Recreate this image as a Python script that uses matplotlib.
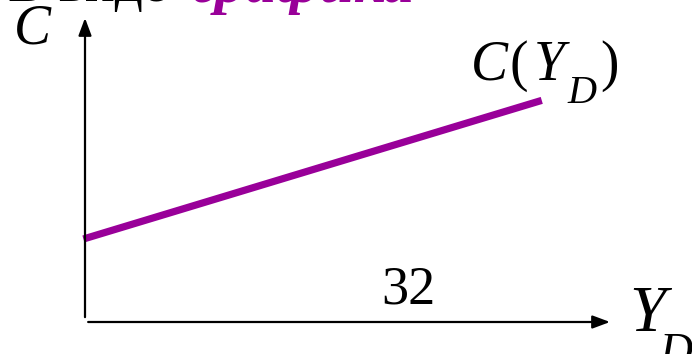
import matplotlib
matplotlib.use("Agg")
import matplotlib.pyplot as plt

# Data (arbitrary units: axes span 0..100)
yd = [-0.3, 87.0]          # disposable income Y_D
c_vals = [27.3, 72.9]      # consumption C(Y_D)
tick_label = "32"
title_black = "В виде "
title_purple = "графика"

W, H = 692, 354
fig = plt.figure(figsize=(W / 100, H / 100), dpi=100)
fig.patch.set_facecolor("white")

def fx(x):
    return x / W

def fy(y):
    return 1 - y / H

# axes: origin at pixel (85, 322), x=100 at px 610, y=100 at px 18
ax = fig.add_axes([fx(85), fy(322), (610 - 85) / W, (322 - 18) / H])
ax.set_xlim(0, 100)
ax.set_ylim(0, 100)
ax.axis("off")

purple = "#990099"
ax.plot(yd, c_vals, color=purple, lw=5.2, solid_capstyle="butt", clip_on=False)

arrow = dict(arrowstyle="-|>,head_length=0.75,head_width=0.28", mutation_scale=14,
             lw=1.6, color="black", shrinkA=0, shrinkB=0)
ax.annotate("", xy=(0, 100), xytext=(0, 1.6), arrowprops=arrow, annotation_clip=False)
ax.annotate("", xy=(100, 0), xytext=(0.6, 0), arrowprops=arrow, annotation_clip=False)

serif = "Liberation Serif"

def txt(x, y, s, size, style="normal", weight="normal", color="black"):
    return fig.text(fx(x), fy(y), s, fontsize=size, family=serif, style=style,
                    weight=weight, color=color, ha="left", va="baseline")

# partially cut-off title at top
txt(8, 1, title_black, 40)
txt(192, 2, title_purple, 44, style="italic", weight="bold", color=purple)

# axis labels
txt(14, 44, "C", 40, style="italic")
txt(629, 331, "Y", 47, style="italic")
txt(660, 365, "D", 33, style="italic")

# curve label C(Y_D)
txt(471, 80, "C", 40, style="italic")
txt(510, 80, "(", 40)
txt(534, 80, "Y", 40, style="italic")
txt(567, 103, "D", 29, style="italic")
txt(600, 80, ")", 40)

# value label
txt(381, 304, tick_label, 39)

fig.savefig("out.png", dpi=100, facecolor="white")
